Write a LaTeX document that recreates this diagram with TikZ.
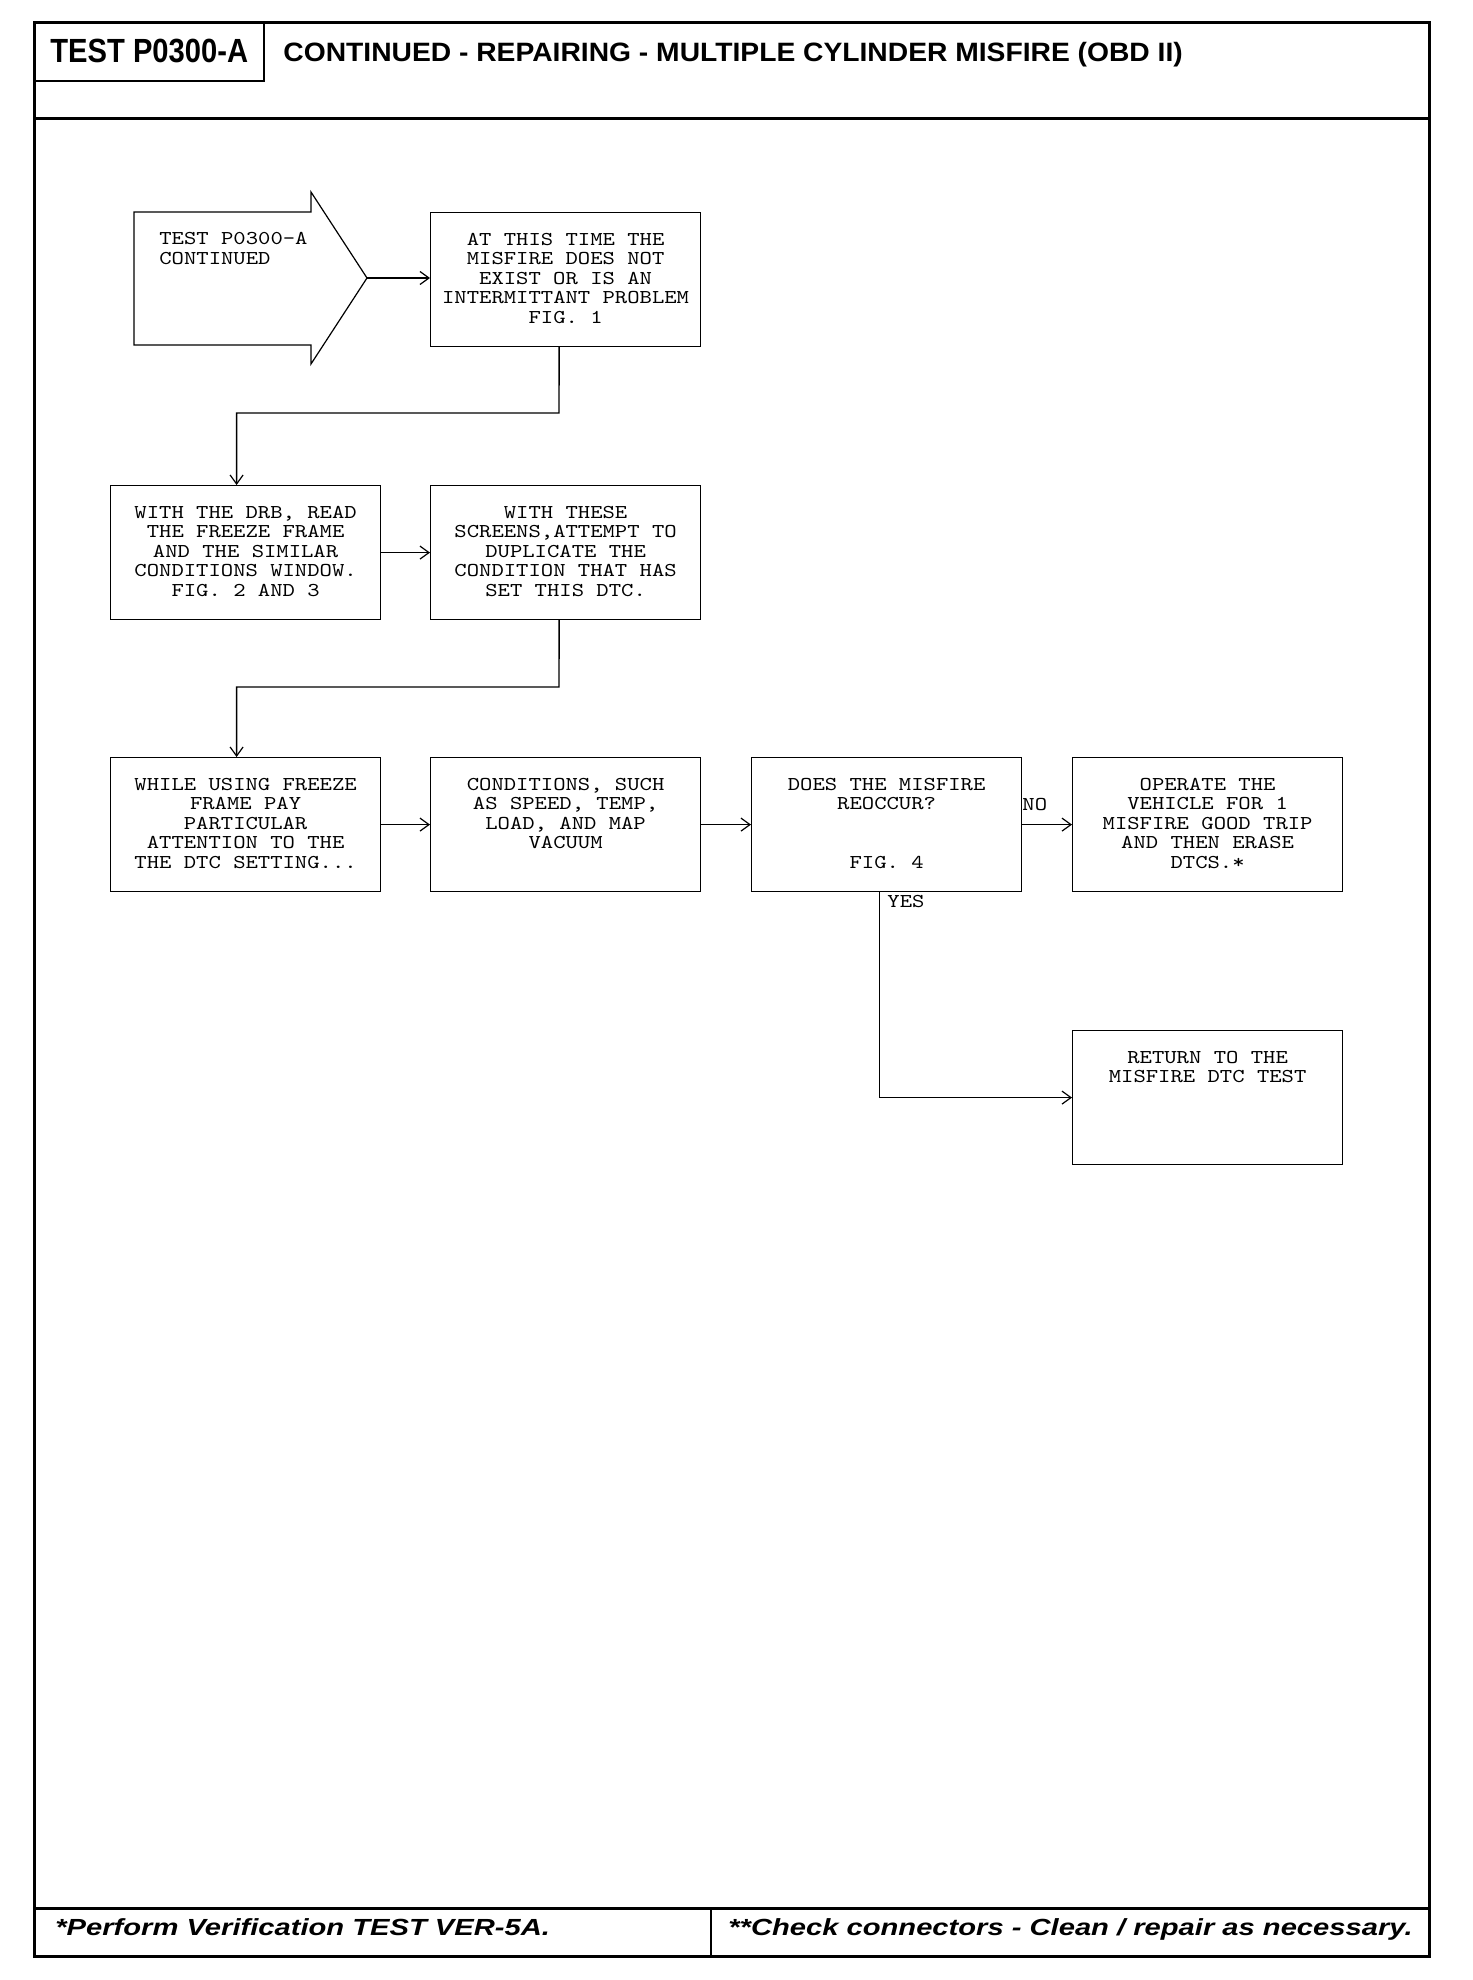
\documentclass[tikz,border=0pt]{standalone}
\usepackage{fontspec}
\setmainfont{Liberation Serif}
\newfontfamily\monofont[FakeStretch=1.2]{lmmono10-regular.otf}
\newfontfamily\testfont[FakeStretch=0.87]{Liberation Sans}
\newfontfamily\titlefont[FakeStretch=1.064]{Liberation Sans}
\newfontfamily\footfont[FakeStretch=1.25]{Liberation Sans}
\usetikzlibrary{arrows.meta}
\newcommand\boxmono{\monofont\fontsize{9.8pt}{9.8pt}\selectfont\lineskiplimit=-20pt}
\newcommand\bxt[1]{\parbox[c][67pt][t]{135pt}{\boxmono\centering\rule{0pt}{16.25pt}#1}}
\begin{document}
\begin{tikzpicture}[x=0.5pt,y=-0.5pt,
  bx/.style={draw,line width=0.6pt,inner sep=0pt,anchor=north west},
  conn/.style={line width=0.7pt,-{Straight Barb[length=4.5pt,width=6.5pt,line width=0.6pt]}},
  frameline/.style={line width=1.5pt},
  thinframe/.style={line width=1pt},
  lbl/.style={inner sep=0pt,anchor=base west,font=\boxmono}]
\useasboundingbox (0,0) rectangle (1472,1980);
% frame
\draw[frameline] (34,23) rectangle (1429,1956);
\draw[frameline] (34,119) -- (1429,119);
\draw[thinframe] (264,23) -- (264,81) -- (34,81);
\draw[frameline] (34,1908) -- (1429,1908);
\draw[thinframe] (711,1908) -- (711,1956);
% header texts
\node[anchor=base west,inner sep=0pt,font=\testfont\bfseries\fontsize{16.76pt}{18pt}\selectfont] (hd) at (50,63) {TEST P0300-A};
\node[anchor=base west,inner sep=0pt,font=\titlefont\bfseries\fontsize{13.27pt}{15pt}\selectfont] (ttl) at (283,62) {CONTINUED - REPAIRING - MULTIPLE CYLINDER MISFIRE (OBD II)};
% footer texts
\node[anchor=base west,inner sep=0pt,font=\footfont\bfseries\itshape\fontsize{11.66pt}{13pt}\selectfont] (f1) at (55,1935) {*Perform Verification TEST VER-5A.};
\node[anchor=base west,inner sep=0pt,font=\footfont\bfseries\itshape\fontsize{11.66pt}{13pt}\selectfont] (f2) at (728,1935) {**Check connectors - Clean / repair as necessary.};
% start arrow
\draw[line width=0.6pt] (311,192) -- (367,278) -- (311,364) -- (311,345) -- (134,345) -- (134,212) -- (311,212) -- cycle;
\coordinate (tip) at (367,278);
\node[inner sep=0pt,anchor=north west] (st) at (159,212) {\parbox[t]{150pt}{\boxmono\raggedright\rule{0pt}{16.25pt}TEST P0300-A\\CONTINUED}};
% boxes
\node[bx] (b1) at (430,212) {\bxt{AT THIS TIME THE\\MISFIRE DOES NOT\\EXIST OR IS AN\\INTERMITTANT PROBLEM\\FIG. 1}};
\node[bx] (b2) at (110,485) {\bxt{WITH THE DRB, READ\\THE FREEZE FRAME\\AND THE SIMILAR\\CONDITIONS WINDOW.\\FIG. 2 AND 3}};
\node[bx] (b3) at (430,485) {\bxt{WITH THESE\\SCREENS,ATTEMPT TO\\DUPLICATE THE\\CONDITION THAT HAS\\SET THIS DTC.}};
\node[bx] (b4) at (110,757) {\bxt{WHILE USING FREEZE\\FRAME PAY\\PARTICULAR\\ATTENTION TO THE\\THE DTC SETTING...}};
\node[bx] (b5) at (430,757) {\bxt{CONDITIONS, SUCH\\AS SPEED, TEMP,\\LOAD, AND MAP\\VACUUM}};
\node[bx] (b6) at (751,757) {\bxt{DOES THE MISFIRE\\REOCCUR?\\[19.6pt]FIG. 4}};
\node[bx] (b7) at (1072,757) {\bxt{OPERATE THE\\VEHICLE FOR 1\\MISFIRE GOOD TRIP\\AND THEN ERASE\\DTCS.*}};
\node[bx] (b8) at (1072,1030) {\bxt{RETURN TO THE\\MISFIRE DTC TEST}};
% connectors
\draw[conn] (tip) -- (b1.west |- tip);
\coordinate (e1) at (559,413);
\draw[conn] ([xshift=-3.25pt]b1.south) -- (e1) -| ([xshift=-4.5pt]b2.north);
\draw[conn] (b2.east) -- (b3.west);
\coordinate (e2) at (559,687);
\draw[conn] ([xshift=-3.25pt]b3.south) -- (e2) -| ([xshift=-4.5pt]b4.north);
\draw[conn] (b4.east) -- (b5.west);
\draw[conn] (b5.east) -- (b6.west);
\draw[conn] (b6.east) -- (b7.west);
\node[lbl] (no) at (1022,810) {NO};
\draw[conn] ([xshift=-3.5pt]b6.south) |- (b8.west);
\node[lbl] (yes) at (887,907) {YES};
\end{tikzpicture}
\end{document}
